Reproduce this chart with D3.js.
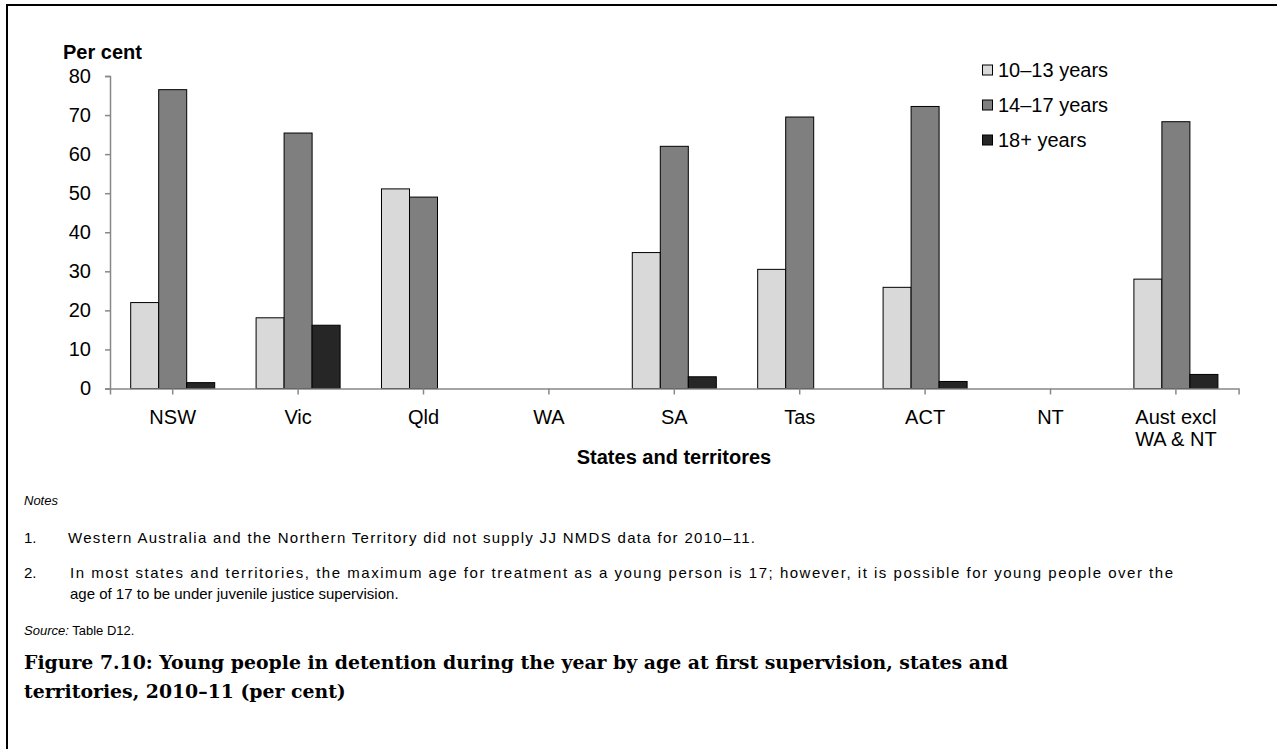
<!DOCTYPE html>
<html><head><meta charset="utf-8">
<script src="https://cdn.jsdelivr.net/npm/d3@7"></script>
<style>
body{margin:0;background:#fff;}
svg{display:block;}
</style></head>
<body>
<script>
const categories = ["NSW","Vic","Qld","WA","SA","Tas","ACT","NT","Aust excl|WA & NT"];
const seriesNames = ["10–13 years","14–17 years","18+ years"];
const seriesColors = ["#d9d9d9","#7f7f7f","#262626"];
const v1013 = [22.0, 18.1, 51.1, null, 34.8, 30.5, 25.9, null, 28.0];
const v1417 = [76.5, 65.4, 49.0, null, 62.0, 69.5, 72.2, null, 68.3];
const v18   = [1.5, 16.2, null, null, 3.0, null, 1.8, null, 3.6];
const yTicks = [0,10,20,30,40,50,60,70,80];
const notes = [
  ["1.", "Western Australia and the Northern Territory did not supply JJ NMDS data for 2010–11."],
  ["2.", "In most states and territories, the maximum age for treatment as a young person is 17; however, it is possible for young people over the", "age of 17 to be under juvenile justice supervision."]
];
const titleLines = ["Figure 7.10: Young people in detention during the year by age at first supervision, states and","territories, 2010–11 (per cent)"];

const W = 1277, H = 749;
const svg = d3.select("body").append("svg").attr("width", W).attr("height", H);
svg.append("rect").attr("x",7).attr("y",5).attr("width",W+10).attr("height",H+10)
  .attr("fill","none").attr("stroke","#000").attr("stroke-width",2);

const sans = "'Liberation Sans', Arial, sans-serif";
const x = d3.scaleBand().domain(categories).range([110, 1238.6]).paddingInner(0.33).paddingOuter(0.165);
const xs = d3.scaleBand().domain(seriesNames).range([0, x.bandwidth()]);
const y = d3.scaleLinear().domain([0,80]).range([388.5, 76]);
const series = [v1013, v1417, v18];

// bars
series.forEach((vals, si) => {
  svg.append("g").selectAll("rect")
    .data(categories.map((c,i)=>({c, v: vals[i]})).filter(d=>d.v!=null))
    .join("rect")
    .attr("x", d => x(d.c) + xs(seriesNames[si]))
    .attr("y", d => y(d.v))
    .attr("width", xs.bandwidth())
    .attr("height", d => y(0) - y(d.v))
    .attr("fill", seriesColors[si])
    .attr("stroke", "#000").attr("stroke-width", 1);
});

// y axis
const ya = svg.append("g").attr("transform","translate(110,0)")
  .call(d3.axisLeft(y).tickValues(yTicks).tickSize(5).tickPadding(14));
ya.selectAll("path,line").attr("stroke","#888").attr("stroke-width",1.5);
ya.selectAll("text").attr("font-family",sans).attr("font-size",20).attr("fill","#000");

// x axis
const xa = svg.append("g").attr("transform",`translate(0,${y(0)})`)
  .call(d3.axisBottom(x).tickSize(6).tickSizeOuter(6).tickFormat(""));
xa.selectAll("path,line").attr("stroke","#888").attr("stroke-width",1.5);
categories.forEach(c => {
  const parts = c.split("|");
  const cx = x(c)+x.bandwidth()/2;
  const t = svg.append("text").attr("x", cx).attr("y", 424)
    .attr("text-anchor","middle").attr("font-family",sans).attr("font-size",20).attr("fill","#000");
  parts.forEach((p,i)=> t.append("tspan").attr("x", cx).attr("dy", i?22:0).text(p));
});

svg.append("text").attr("x",63).attr("y",59).attr("font-family",sans).attr("font-weight","bold")
  .attr("font-size",20).text("Per cent");
svg.append("text").attr("x",674).attr("y",464).attr("text-anchor","middle").attr("font-family",sans)
  .attr("font-weight","bold").attr("font-size",20).text("States and territores");

// legend
seriesNames.forEach((s,i)=>{
  const ly = 70 + i*35;
  svg.append("rect").attr("x",982.5).attr("y",ly-5).attr("width",10).attr("height",10)
    .attr("fill",seriesColors[i]).attr("stroke","#000").attr("stroke-width",1);
  svg.append("text").attr("x",998).attr("y",ly+7).attr("font-family",sans).attr("font-size",20).text(s);
});

// notes
svg.append("text").attr("x",24).attr("y",505).attr("font-family",sans).attr("font-style","italic")
  .attr("font-size",13).text("Notes");
const noteY = [543, 578];
const noteLen = [[687],[1103]];
notes.forEach((n,i)=>{
  svg.append("text").attr("x",24).attr("y",noteY[i]).attr("font-family",sans).attr("font-size",15).text(n[0]);
  svg.append("text").attr("x",i?70:68).attr("y",noteY[i]).attr("font-family",sans).attr("font-size",15)
    .attr("textLength",noteLen[i][0]).attr("lengthAdjust","spacing").text(n[1]);
  if (n[2]) svg.append("text").attr("x",70).attr("y",noteY[i]+21).attr("font-family",sans).attr("font-size",15)
    .text(n[2]);
});
const src = svg.append("text").attr("x",24).attr("y",635).attr("font-family",sans).attr("font-size",13);
src.append("tspan").attr("font-style","italic").text("Source:");
src.append("tspan").text(" Table D12.");

titleLines.forEach((t,i)=>{
  svg.append("text").attr("x",24).attr("y",669+i*29).attr("font-family","'DejaVu Serif', serif")
    .attr("font-weight","bold").attr("font-size",18.85).text(t);
});
</script>
</body></html>
